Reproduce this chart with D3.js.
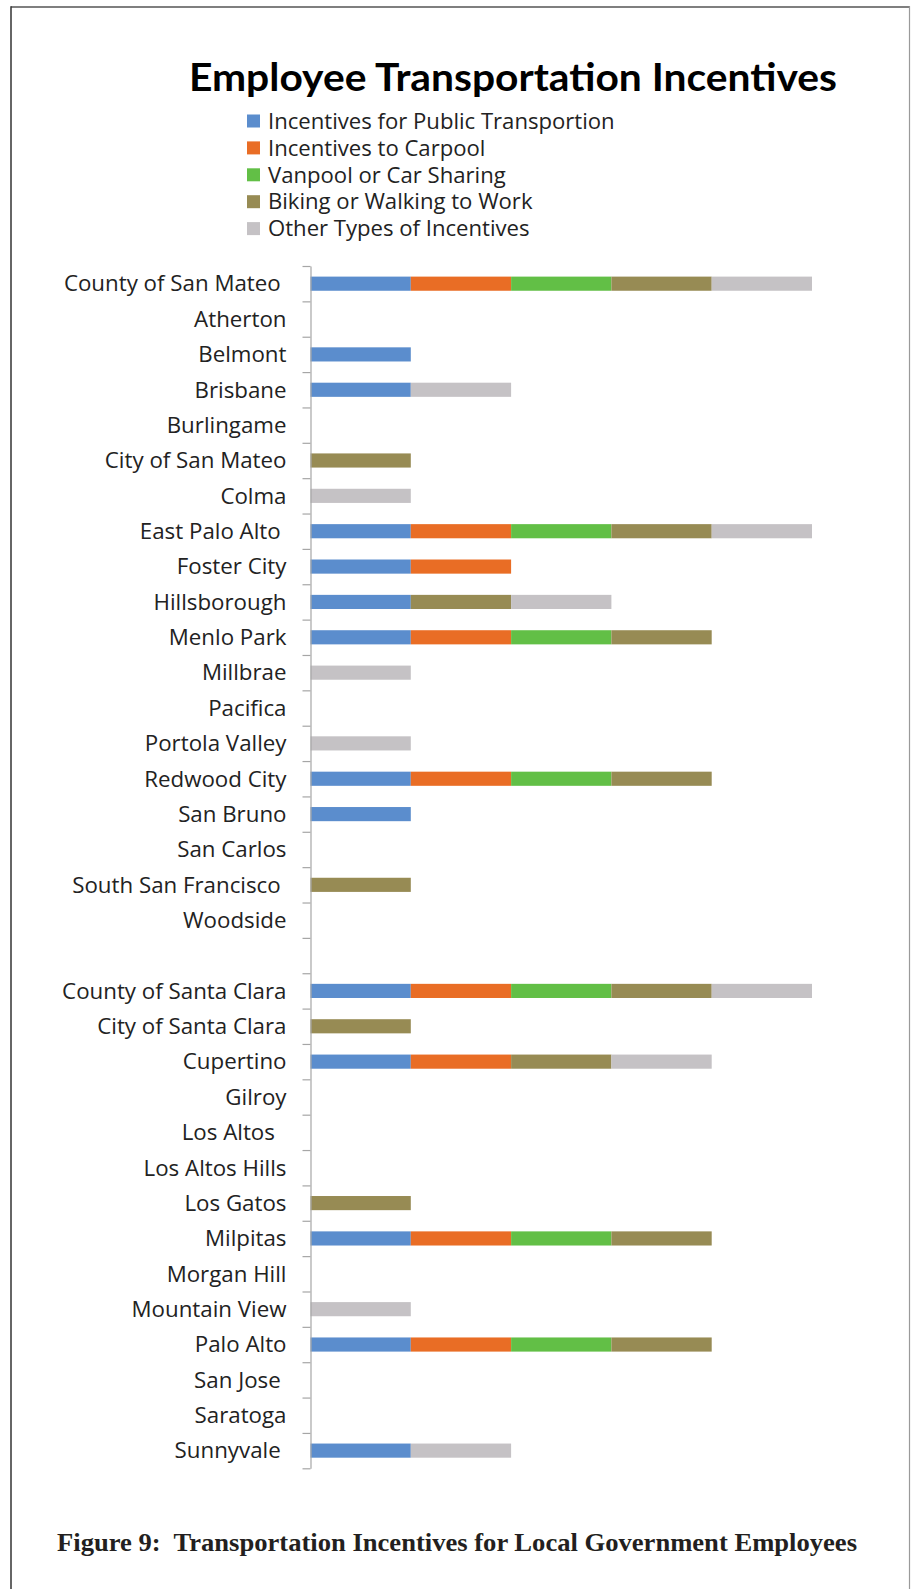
<!DOCTYPE html>
<html>
<head>
<meta charset="utf-8">
<script src="https://cdn.jsdelivr.net/npm/d3@7"></script>
<style>
  html, body { margin: 0; padding: 0; background: #fff; }
  svg { display: block; }
  text { white-space: pre; }
</style>
</head>
<body>
<svg id="chart" width="911" height="1589"></svg>
<script>
// ---------- DATA ----------
const categories = [
  "County of San Mateo ", "Atherton", "Belmont", "Brisbane", "Burlingame",
  "City of San Mateo", "Colma", "East Palo Alto ", "Foster City", "Hillsborough",
  "Menlo Park", "Millbrae", "Pacifica", "Portola Valley", "Redwood City",
  "San Bruno", "San Carlos", "South San Francisco ", "Woodside", " ",
  "County of Santa Clara", "City of Santa Clara", "Cupertino", "Gilroy", "Los Altos  ",
  "Los Altos Hills", "Los Gatos", "Milpitas", "Morgan Hill", "Mountain View",
  "Palo Alto", "San Jose ", "Saratoga", "Sunnyvale "
];
const seriesNames = [
  "Incentives for Public Transportion",
  "Incentives to Carpool",
  "Vanpool or Car Sharing",
  "Biking or Walking to Work",
  "Other Types of Incentives"
];
const publicTransit = [1,0,1,1,0, 0,0,1,1,1, 1,0,0,0,1, 1,0,0,0,0, 1,0,1,0,0, 0,0,1,0,0, 1,0,0,1];
const carpool       = [1,0,0,0,0, 0,0,1,1,0, 1,0,0,0,1, 0,0,0,0,0, 1,0,1,0,0, 0,0,1,0,0, 1,0,0,0];
const vanpool       = [1,0,0,0,0, 0,0,1,0,0, 1,0,0,0,1, 0,0,0,0,0, 1,0,0,0,0, 0,0,1,0,0, 1,0,0,0];
const bikeWalk      = [1,0,0,0,0, 1,0,1,0,1, 1,0,0,0,1, 0,0,1,0,0, 1,1,1,0,0, 0,1,1,0,0, 1,0,0,0];
const other         = [1,0,0,1,0, 0,1,1,0,1, 0,1,0,1,0, 0,0,0,0,0, 1,0,1,0,0, 0,0,0,0,1, 0,0,0,1];
const colors = ["#5b8dcd", "#e96d25", "#62bf46", "#978b54", "#c5c2c5"];
const xMax = 5;
const titleText = "Employee Transportation Incentives";
const captionText = "Figure 9:  Transportation Incentives for Local Government Employees";

// ---------- BUILD ----------
const seriesValues = [publicTransit, carpool, vanpool, bikeWalk, other];
const keys = seriesNames;
const table = categories.map((c, i) => {
  const row = { category: c };
  keys.forEach((k, j) => { row[k] = seriesValues[j][i]; });
  return row;
});

const svg = d3.select("#chart");
const sans = "'Open Sans', 'Noto Sans', sans-serif";

// helper: font size so that a sample string reaches a given width
function fitSize(sample, family, weight, target, base) {
  const t = svg.append("text").attr("font-family", family).attr("font-weight", weight)
    .attr("font-size", base).text(sample);
  const w = t.node().getComputedTextLength();
  t.remove();
  return w > 0 ? base * target / w : base;
}

// frame
const frame = svg.append("g");
frame.append("line").attr("x1", 11).attr("x2", 910).attr("y1", 7).attr("y2", 7)
  .attr("stroke", "#555").attr("stroke-width", 1.5);
frame.append("line").attr("x1", 11).attr("x2", 11).attr("y1", 6.3).attr("y2", 1589)
  .attr("stroke", "#333").attr("stroke-width", 1.5);
frame.append("line").attr("x1", 909.5).attr("x2", 909.5).attr("y1", 6.3).attr("y2", 1589)
  .attr("stroke", "#9a9a9a").attr("stroke-width", 1.2);

// title
svg.append("text")
  .attr("x", 189).attr("y", 91)
  .attr("font-family", "Lato, 'Open Sans', sans-serif")
  .attr("font-weight", 700)
  .attr("font-size", 39)
  .attr("fill", "#000")
  .attr("textLength", 648)
  .attr("lengthAdjust", "spacingAndGlyphs")
  .text(titleText);

// legend
const legendSize = fitSize(seriesNames[0], sans, 400, 347, 20);
const color = d3.scaleOrdinal().domain(keys).range(colors);
const legendY = d3.scaleLinear().domain([0, 4]).range([121, 228.6]);
const legend = svg.append("g").selectAll("g").data(keys).join("g")
  .attr("transform", (d, i) => `translate(247,${legendY(i)})`);
legend.append("rect").attr("x", 0).attr("y", -6.5).attr("width", 13).attr("height", 13)
  .attr("fill", d => color(d));
legend.append("text").attr("x", 21).attr("y", 0).attr("dy", "0.35em")
  .attr("font-family", sans)
  .attr("font-size", legendSize).attr("fill", "#222")
  .text(d => d);

// scales
const plotTop = 266, plotBottom = 1468.3, axisX = 310.5;
const y = d3.scaleBand().domain(categories).range([plotTop, plotBottom])
  .paddingInner(0.6).paddingOuter(0.3);
const x = d3.scaleLinear().domain([0, xMax]).range([axisX, 812]);

// bars
const stacked = d3.stack().keys(keys)(table);
svg.append("g").selectAll("g").data(stacked).join("g")
  .attr("fill", d => color(d.key))
  .selectAll("rect").data(d => d.filter(p => p[1] - p[0] > 0)).join("rect")
  .attr("x", d => x(d[0]))
  .attr("width", d => x(d[1]) - x(d[0]))
  .attr("y", d => y(d.data.category))
  .attr("height", y.bandwidth());

// category labels
const labelSize = fitSize("County of San Mateo", sans, 400, 217, 20);
const labelAxis = d3.axisLeft(y).tickSize(0).tickPadding(24);
const gl = svg.append("g").attr("transform", `translate(${axisX},0)`).call(labelAxis);
gl.select(".domain").remove();
gl.selectAll("text")
  .attr("font-family", sans)
  .attr("font-size", labelSize).attr("fill", "#222")
  .attr("dy", "0.35em");

// category boundary ticks + axis line
const yb = d3.scaleLinear().domain([0, categories.length]).range([plotTop, plotBottom]);
const tickAxis = d3.axisLeft(yb).ticks(categories.length).tickSize(8).tickFormat("").tickSizeOuter(0);
const gt = svg.append("g").attr("transform", `translate(${axisX},0)`).call(tickAxis);
gt.select(".domain").attr("stroke", "#a6a6a6").attr("stroke-width", 1.2);
gt.selectAll(".tick line").attr("stroke", "#a6a6a6").attr("stroke-width", 1.2);

// caption
svg.append("text")
  .attr("x", 57).attr("y", 1551)
  .attr("font-family", "'Liberation Serif', 'DejaVu Serif', serif")
  .attr("font-weight", 700)
  .attr("font-size", 25)
  .attr("fill", "#231f20")
  .attr("textLength", 800)
  .attr("lengthAdjust", "spacingAndGlyphs")
  .text(captionText);
</script>
</body>
</html>
